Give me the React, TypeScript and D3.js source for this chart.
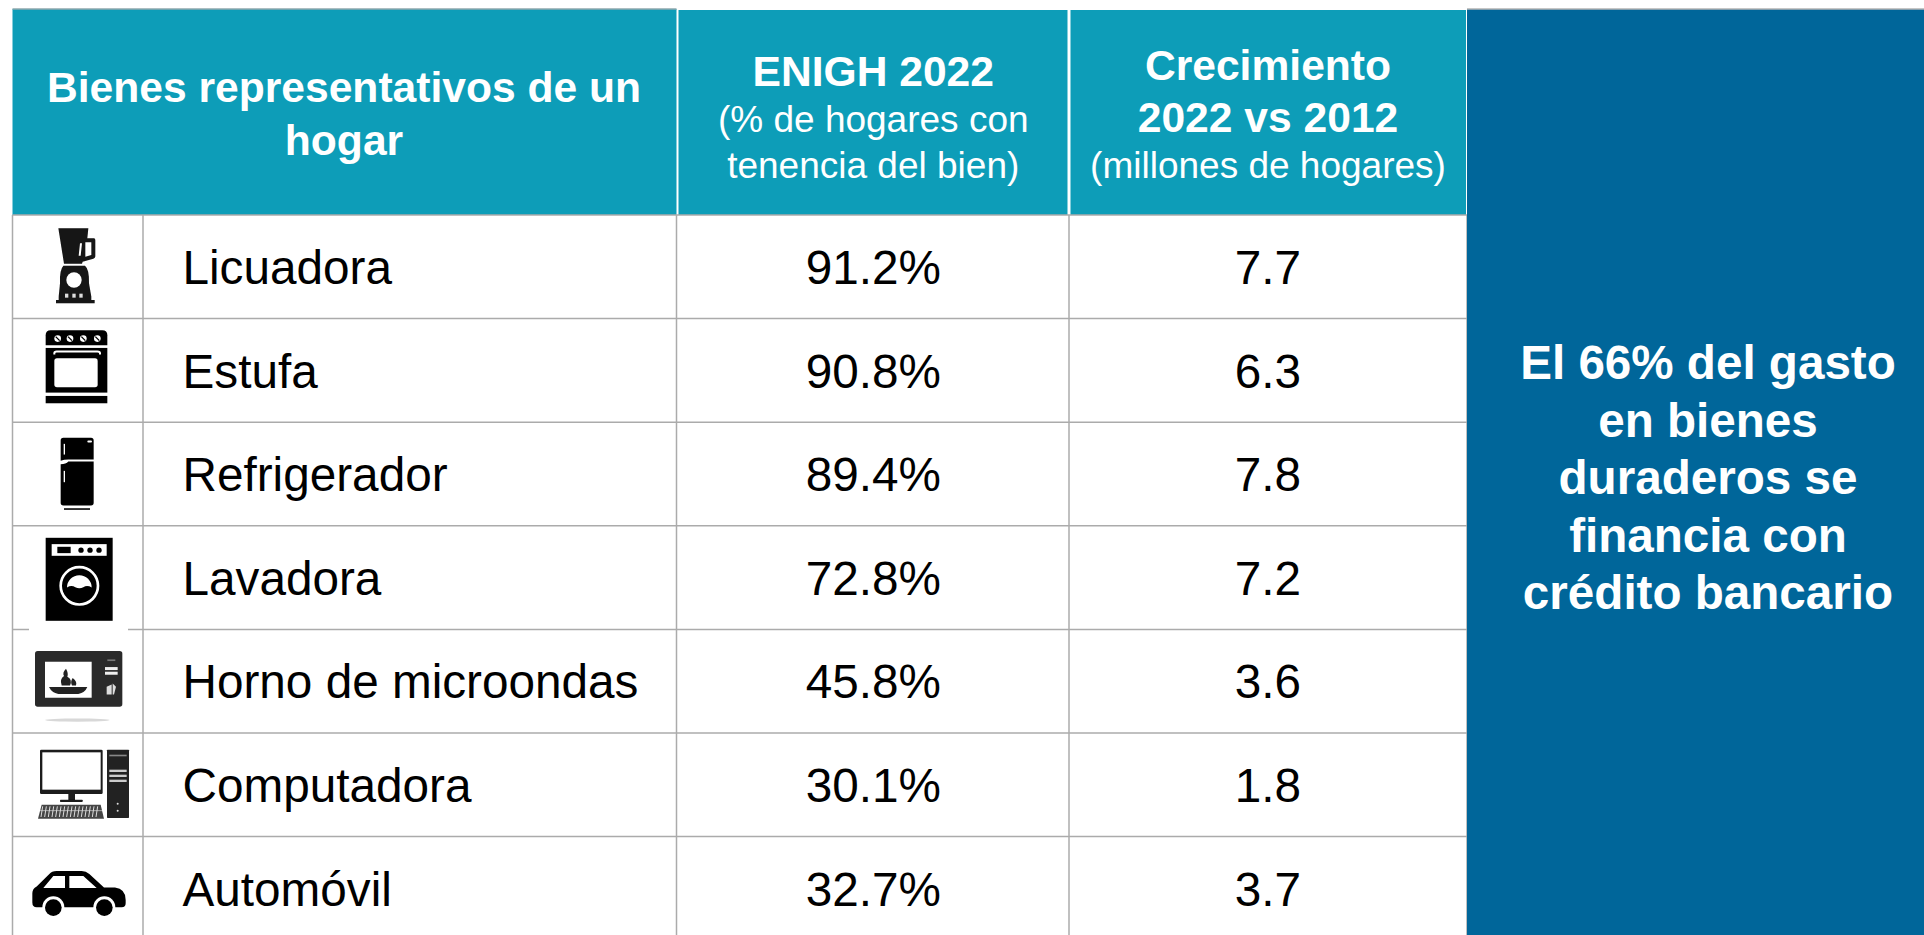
import React from 'react';
import * as d3 from 'd3';

// data
const goods = ['Licuadora', 'Estufa', 'Refrigerador', 'Lavadora', 'Horno de microondas', 'Computadora', 'Automóvil'];
const tenencia = [91.2, 90.8, 89.4, 72.8, 45.8, 30.1, 32.7];
const crecimiento = [7.7, 6.3, 7.8, 7.2, 3.6, 1.8, 3.7];
const panelLines = ['El 66% del gasto', 'en bienes', 'duraderos se', 'financia con', 'crédito bancario'];

// constants
const width = 1924;
const height = 935;
const font = '"Liberation Sans", Arial, sans-serif';
const teal = '#0d9db8';
const blue = '#00669a';
const grid = '#ababab';
const headerTop = 9;
const headerBottom = 215;
const colEdges = [12.5, 143, 676.5, 1069, 1467];
const rowCount = goods.length;

const rowScale = d3.scaleBand<string>().domain(goods).range([headerBottom, headerBottom + 103.6 * rowCount]);
const pct = d3.format('.1f');

// icons are drawn at 3x in a box that starts at the top of the row
const Blender = () => (
  <g>
    <path d="M175 40H265L262 70H282Q286 70 286 76V124Q286 130 280 131L248 140L246 146H192Z" fill="#151515" />
    <path d="M256 82H274V120L256 125Z M240 85L246 85L242 122L236 122Z" fill="#fff" />
    <path d="M190 152H255Q268 162 267 205L274 245V255H284V265H168V255H176V245L180 205Q178 165 190 152Z" fill="#151515" />
    <circle cx={222} cy={195} r={23} fill="#fff" />
    <rect x={195} y={236} width={10} height={12} fill="#ddd" />
    <rect x={217} y={236} width={10} height={12} fill="#ddd" />
    <rect x={238} y={236} width={10} height={12} fill="#ddd" />
  </g>
);

const Stove = () => (
  <g>
    <path d="M137 80V50Q137 35 152 35H307Q322 35 322 50V80Z" fill="#000" />
    {[173, 210, 250, 292].map(x => (
      <g key={x}>
        <circle cx={x} cy={60} r={10} fill="#fff" />
        <path d={`M${x - 6} ${60 - 6}L${x + 6} ${60 + 6}`} stroke="#000" strokeWidth={4} />
      </g>
    ))}
    <rect x={137} y={88} width={185} height={134} fill="#000" />
    <path d="M163 108V104Q163 99 170 99H292Q300 99 300 104V108" fill="none" stroke="#fff" strokeWidth={6} />
    <rect x={163} y={119} width={130} height={87} rx={8} fill="#fff" />
    <rect x={137} y={232} width={185} height={22} fill="#000" />
  </g>
);

const Fridge = () => (
  <g>
    <path d="M182 112V55Q182 47 190 47H273Q281 47 281 55V112H205Q192 112 182 116Z" fill="#000" />
    <path d="M182 126Q198 126 205 118H281V242Q281 250 273 250H190Q182 250 182 242Z" fill="#000" />
    <rect x={191} y={65} width={4} height={32} fill="#fff" />
    <rect x={191} y={146} width={4} height={34} fill="#fff" />
    <rect x={262} y={55} width={14} height={6} rx={3} fill="#fff" />
    <rect x={192} y={258} width={78} height={5} fill="#111" />
  </g>
);

const Washer = () => (
  <g>
    <rect x={137} y={36} width={201} height={249} fill="#000" />
    <rect x={155} y={55} width={165} height={35} fill="#fff" />
    <rect x={172} y={63} width={40} height={19} fill="#000" />
    {[243, 270, 297].map(x => <circle key={x} cx={x} cy={73} r={8} fill="#000" />)}
    <circle cx={238} cy={180} r={56} fill="none" stroke="#fff" strokeWidth={8} />
    <path d="M201 185A37 37 0 0 1 275 185Q262 177 250 184Q238 190 226 184Q214 177 201 185Z" fill="#fff" />
  </g>
);

const Microwave = () => (
  <g>
    <ellipse cx={232} cy={272} rx={97} ry={5} fill="#d8d8d8" />
    <rect x={105} y={65} width={262} height={167} rx={8} fill="#2a2a2a" />
    <rect x={135} y={97} width={140} height={108} fill="#fff" />
    <path d="M147 173H262Q255 190 235 194H175Q155 190 147 173Z" fill="#222" />
    <path d="M185 168Q178 150 192 140Q186 130 198 118Q206 132 202 142Q218 150 210 168Z M216 168Q210 158 218 146Q232 156 228 168Z" fill="#222" />
    <rect x={315} y={113} width={38} height={9} fill="#eee" />
    <rect x={315} y={127} width={38} height={9} fill="#eee" />
    <path d="M320 172L335 165V195H320Z M338 162L348 172L342 195H338Z" fill="#ddd" />
    <rect x={322} y={90} width={24} height={5} fill="#777" />
  </g>
);

const Computer = () => (
  <g>
    <rect x={120} y={50} width={188} height={133} rx={4} fill="#1a1a1a" />
    <rect x={127} y={58} width={175} height={112} fill="#fff" />
    <rect x={205} y={183} width={20} height={18} fill="#1a1a1a" />
    <rect x={180} y={200} width={68} height={7} rx={2} fill="#1a1a1a" />
    <path d="M125 215H302L312 257H114Z" fill="#444" />
    {d3.range(128, 304, 11).map(x => <path key={x} d={`M${x} 220L${x - 5} 252`} stroke="#ddd" strokeWidth={3} />)}
    <path d="M120 233H306" stroke="#ddd" strokeWidth={2} />
    <rect x={321} y={50} width={66} height={205} rx={2} fill="#222" />
    <rect x={328} y={65} width={52} height={5} fill="#888" />
    <rect x={328} y={110} width={52} height={7} fill="#ccc" />
    <rect x={328} y={125} width={52} height={7} fill="#ccc" />
    <rect x={328} y={140} width={52} height={7} fill="#ccc" />
    <circle cx={353} cy={212} r={3} fill="#ddd" />
    <circle cx={353} cy={233} r={3} fill="#ddd" />
  </g>
);

const Car = () => (
  <g>
    <path d="M97 170Q97 157 110 150L148 112Q155 103 170 103H245Q258 103 268 112L312 153H345Q377 157 377 190V200Q377 212 365 212H110Q97 212 97 198Z" fill="#000" />
    <path d="M130 154L160 118H195V154Z M208 118H250L290 154H208Z" fill="#fff" />
    {[160, 313].map(x => (
      <g key={x}>
        <circle cx={x} cy={212} r={33} fill="#fff" />
        <circle cx={x} cy={213} r={25} fill="#000" />
      </g>
    ))}
  </g>
);

const icons = [Blender, Stove, Fridge, Washer, Microwave, Computer, Car];

const App = () => {
  const band = rowScale.bandwidth();
  const col2 = (colEdges[2] + colEdges[3]) / 2 + 0.5;
  const col3 = (colEdges[3] + colEdges[4]) / 2;

  return (
    <svg width={width} height={height} viewBox={`0 0 ${width} ${height}`} fontFamily={font}
      style={{ position: 'absolute', top: 0, left: 0, display: 'block' }}>
      <defs>
        {/* the icons in the reference are soft, scaled bitmaps */}
        <filter id="soft" x="-5%" y="-5%" width="110%" height="110%">
          <feGaussianBlur stdDeviation="0.5" />
        </filter>
      </defs>
      <rect width={width} height={height} fill="#fff" />

      {/* header */}
      <rect x={colEdges[0]} y={headerTop} width={colEdges[2] - colEdges[0]} height={headerBottom - headerTop} fill={teal} />
      <rect x={678.5} y={headerTop + 1} width={1067.5 - 678.5} height={headerBottom - headerTop - 1} fill={teal} />
      <rect x={1070.5} y={headerTop + 1} width={1466 - 1070.5} height={headerBottom - headerTop - 1} fill={teal} />
      <path d={`M${colEdges[0]} ${headerTop}H${colEdges[2]}`} stroke="#8fa9ae" strokeWidth={1.5} />

      <g fill="#fff" textAnchor="middle">
        <g fontWeight="bold" fontSize={42.6}>
          <text x={344} y={102}>Bienes representativos de un</text>
          <text x={344} y={155}>hogar</text>
          <text x={col2} y={86}>ENIGH 2022</text>
          <text x={col3} y={80}>Crecimiento</text>
          <text x={col3} y={132}>2022 vs 2012</text>
        </g>
        <g fontSize={37}>
          <text x={col2} y={132}>(% de hogares con</text>
          <text x={col2} y={178}>tenencia del bien)</text>
          <text x={col3} y={178}>(millones de hogares)</text>
        </g>
      </g>

      {/* rows */}
      {goods.map((g, i) => {
        const y = rowScale(g)!;
        const Icon = icons[i];
        return (
          <g key={g}>
            <path d={`M${colEdges[0]} ${y + band}H${colEdges[4]}`} stroke={grid} strokeWidth={1.5} />
            <g transform={`translate(0,${y}) scale(${1 / 3})`} filter="url(#soft)"><Icon /></g>
            <text x={182.5} y={y + 69} fontSize={47.7} fill="#000">{g}</text>
            <text x={col2} y={y + 69} fontSize={47.7} fill="#000" textAnchor="middle">{pct(tenencia[i])}%</text>
            <text x={col3} y={y + 69} fontSize={47.7} fill="#000" textAnchor="middle">{pct(crecimiento[i])}</text>
          </g>
        );
      })}
      <path d={`M${colEdges[0]} ${headerBottom}H${colEdges[4]}`} stroke={grid} strokeWidth={1.5} />
      {colEdges.map(x => (
        <path key={x} d={`M${x} ${headerBottom}V${height}`} stroke={grid} strokeWidth={1.5} />
      ))}
      {/* white patch behind the microwave picture */}
      <rect x={29} y={rowScale('Horno de microondas')! - 2} width={99} height={4} fill="#fff" />

      {/* side panel */}
      <rect x={colEdges[4]} y={headerTop} width={width - colEdges[4]} height={height - headerTop} fill={blue} />
      <path d={`M${colEdges[4]} ${headerTop}H${width}`} stroke="#b3b3b3" strokeWidth={1.5} />
      <g fill="#fff" fontWeight="bold" fontSize={47.6} textAnchor="middle">
        {panelLines.map((l, i) => <text key={l} x={1708} y={379 + i * 57.5}>{l}</text>)}
      </g>
    </svg>
  );
};

export default App;
